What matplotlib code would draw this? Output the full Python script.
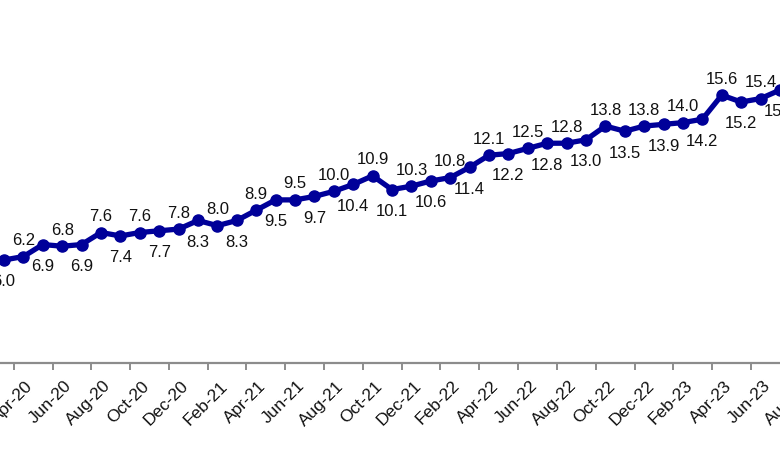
import matplotlib
matplotlib.use("Agg")
import matplotlib.pyplot as plt

plt.rcParams['font.family'] = ['Liberation Sans', 'DejaVu Sans']

months = ["Mar-20", "Apr-20", "May-20", "Jun-20", "Jul-20", "Aug-20", "Sep-20", "Oct-20",
          "Nov-20", "Dec-20", "Jan-21", "Feb-21", "Mar-21", "Apr-21", "May-21", "Jun-21",
          "Jul-21", "Aug-21", "Sep-21", "Oct-21", "Nov-21", "Dec-21", "Jan-22", "Feb-22",
          "Mar-22", "Apr-22", "May-22", "Jun-22", "Jul-22", "Aug-22", "Sep-22", "Oct-22",
          "Nov-22", "Dec-22", "Jan-23", "Feb-23", "Mar-23", "Apr-23", "May-23", "Jun-23",
          "Jul-23"]
values = [6.0, 6.2, 6.9, 6.8, 6.9, 7.6, 7.4, 7.6, 7.7, 7.8, 8.3, 8.0, 8.3, 8.9, 9.5, 9.5,
          9.7, 10.0, 10.4, 10.9, 10.1, 10.3, 10.6, 10.8, 11.4, 12.1, 12.2, 12.5, 12.8, 12.8,
          13.0, 13.8, 13.5, 13.8, 13.9, 14.0, 14.2, 15.6, 15.2, 15.4, 15.9]
# axis labels shown every second month (Apr-20 ... Aug-23)
tick_labels = ["Apr-20", "Jun-20", "Aug-20", "Oct-20", "Dec-20", "Feb-21", "Apr-21", "Jun-21",
               "Aug-21", "Oct-21", "Dec-21", "Feb-22", "Apr-22", "Jun-22", "Aug-22", "Oct-22",
               "Dec-22", "Feb-23", "Apr-23", "Jun-23", "Aug-23"]

W, H = 780, 470
px_month = 19.4
x0_px = 4.0
axis_px = 363.0
px_unit = 17.17

fig = plt.figure(figsize=(W / 100, H / 100), dpi=100)
ax = fig.add_axes([0, (H - axis_px) / H, 1, axis_px / H])

color = '#000099'
xs = list(range(len(values)))
ax.plot(xs, values, color=color, lw=3.8, marker='o', ms=8, solid_capstyle='round')

for i, v in enumerate(values):
    if i % 2 == 1:
        off = 11.5
    else:
        off = -15.8
    ax.annotate(f"{v:.1f}", xy=(i, v), xytext=(0, off), textcoords='offset points',
                ha='center', va='center', fontsize=12, color='#111111',
                annotation_clip=False)

for s in ['top', 'left', 'right']:
    ax.spines[s].set_visible(False)
ax.spines['bottom'].set_color('#8c8c8c')
ax.spines['bottom'].set_linewidth(1.6)
ax.set_yticks([])

# tick marks between categories every two months
ax.set_xticks([k + 0.5 for k in range(-2, len(values) + 2, 2)])
ax.tick_params(axis='x', length=5, width=1.4, color='#8c8c8c', labelbottom=False)

for j, lab in enumerate(tick_labels):
    pos = 1 + 2 * j
    ax.annotate(lab, xy=(pos, 0), xycoords=('data', 'axes fraction'),
                xytext=(1.5, -11), textcoords='offset points',
                rotation=45, ha='right', va='top', rotation_mode='anchor',
                fontsize=12.5, color='#111111', annotation_clip=False)

ax.set_xlim(-x0_px / px_month, (W - x0_px) / px_month)
ax.set_ylim(0, axis_px / px_unit)

fig.savefig("out.png", dpi=100)
